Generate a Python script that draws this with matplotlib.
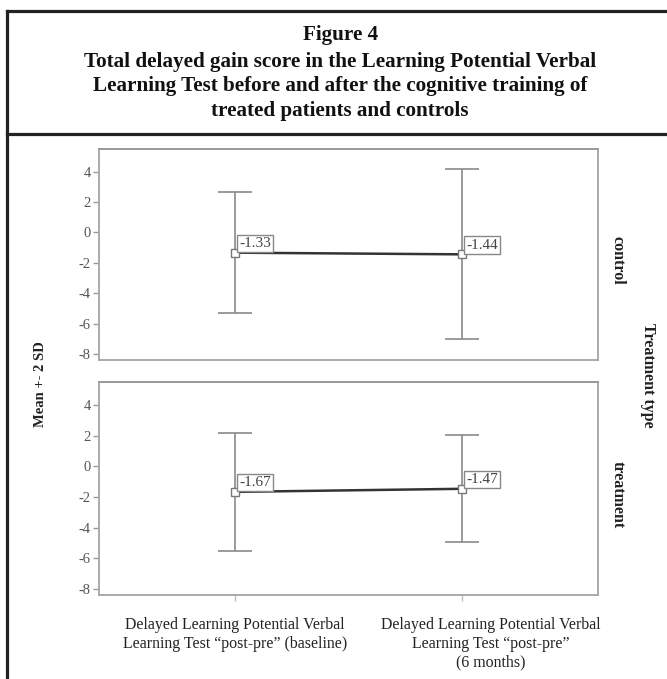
import matplotlib
matplotlib.use('Agg')
import matplotlib.pyplot as plt
import matplotlib.transforms as mtransforms
from matplotlib.lines import Line2D

plt.rcParams['font.family'] = ['Liberation Serif', 'DejaVu Serif']

# data
timepoints = ['Delayed Learning Potential Verbal\nLearning Test \u201cpost-pre\u201d (baseline)',
              'Delayed Learning Potential Verbal\nLearning Test \u201cpost-pre\u201d\n(6 months)']
groups = ['control', 'treatment']
means_control = [-1.33, -1.44]
twosd_control = [4.0, 5.6]
means_treatment = [-1.67, -1.47]
twosd_treatment = [3.85, 3.5]
yticks = [4, 2, 0, -2, -4, -6, -8]

title_lines = ['Figure 4',
               'Total delayed gain score in the Learning Potential Verbal',
               'Learning Test before and after the cognitive training of',
               'treated patients and controls']

W, H = 667, 679
fig = plt.figure(figsize=(W / 100, H / 100), dpi=100)
fig.patch.set_facecolor('white')


def px(x, y):
    return x / W, 1 - y / H


# frame around the figure
for (x0, y0), (x1, y1) in [((7, 11), (7, H)), ((7, 11), (W, 11)), ((7, 133.5), (W, 133.5))]:
    a, b = px(x0, y0)
    c, d = px(x1, y1)
    fig.add_artist(Line2D([a, c], [b, d], color='#222222', lw=2.3, transform=fig.transFigure))

title_y = [35, 62, 86, 111]
for line, ty in zip(title_lines, title_y):
    fig.text(0.51, 1 - ty / H, line, ha='center', va='center', fontsize=15.2,
             fontweight='bold', color='#111111')

panels = [(149, 360), (382, 595)]
data = [(means_control, twosd_control), (means_treatment, twosd_treatment)]
xpos = [1, 2]

for i, ((top, bot), (means, sd2), grp) in enumerate(zip(panels, data, groups)):
    ax = fig.add_axes([99 / W, 1 - bot / H, 499 / W, (bot - top) / H])
    ax.set_xlim(0.4, 2.6)
    ax.set_ylim(-8.4, 5.5)
    for s in ax.spines.values():
        s.set_color('#aaaaaa')
        s.set_linewidth(1.4)
    ax.spines['top'].set_color('#999999')
    ax.errorbar(xpos, means, yerr=sd2, fmt='none', ecolor='#8a8a8a', elinewidth=1.2,
                capsize=12.5, capthick=1.2, zorder=1)
    ax.plot(xpos, means, color='#333333', lw=1.8, zorder=2)
    ax.plot(xpos, means, linestyle='none', marker='s', markersize=6,
            markerfacecolor='white', markeredgecolor='#777777', markeredgewidth=1.0, zorder=3)
    for x, m in zip(xpos, means):
        ax.annotate('%.2f' % m, (x, m), xytext=(3, 2), textcoords='offset points',
                    ha='left', va='bottom', fontsize=11, color='#444444',
                    bbox=dict(boxstyle='square,pad=0.15', fc='white', ec='#888888', lw=1.0),
                    zorder=4)
    ax.set_yticks(yticks)
    ax.set_yticklabels([str(t) for t in yticks], fontsize=10.5, color='#555555')
    ax.tick_params(axis='y', length=4, width=1, color='#999999', pad=2)
    ax.set_xticks(xpos)
    if i == 1:
        ax.set_xticklabels(timepoints, fontsize=11.4, color='#222222', linespacing=1.2)
        ax.tick_params(axis='x', length=4, width=1, color='#bbbbbb', pad=12)
        # second label sits a bit right of its tick in the original
        lbl = ax.get_xticklabels()[1]
        lbl.set_transform(lbl.get_transform() +
                          mtransforms.ScaledTranslation(0.29, 0, fig.dpi_scale_trans))
    else:
        ax.set_xticklabels([])
        ax.tick_params(axis='x', length=0)
    ax.text(1.04, 0.47, grp, transform=ax.transAxes, rotation=-90, ha='center',
            va='center', fontsize=11.5, fontweight='bold', color='#222222')

x, y = px(40, 384)
fig.text(x, y, 'Mean +- 2 SD', rotation=90, ha='center', va='center',
         fontsize=10.5, fontweight='bold', color='#222222')
x, y = px(648, 375)
fig.text(x, y, 'Treatment type', rotation=-90, ha='center', va='center',
         fontsize=11.5, fontweight='bold', color='#222222')

fig.savefig('out.png', dpi=100, facecolor='white')
